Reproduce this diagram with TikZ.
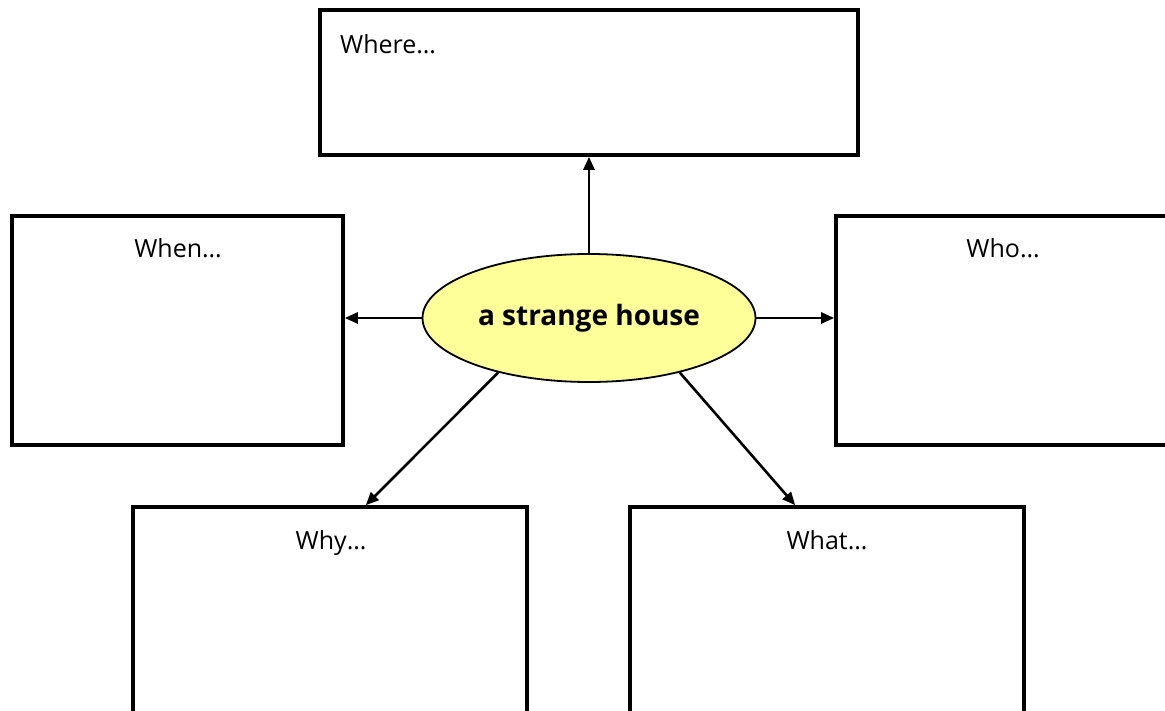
\documentclass[tikz,border=0pt]{standalone}
\usepackage{fontspec}
\setmainfont{Open Sans}
\usetikzlibrary{shapes.geometric,arrows.meta,calc}
\definecolor{ellfill}{HTML}{FFFF99}
\begin{document}
\begin{tikzpicture}[x=1pt,y=-1pt,
  qbox/.style={draw=black,line width=3.6pt,rectangle,inner sep=0pt},
  qtext/.style={font=\fontsize{25}{28}\selectfont,inner sep=0pt},
  conn/.style={line width=2.6pt,-{Triangle[length=13pt,width=11pt]}}]
\useasboundingbox (0,0) rectangle (1165,711);
\clip (0,0) rectangle (1165,711);
\fill[white] (0,0) rectangle (1165,711);
% boxes
\node[qbox,minimum width=538pt,minimum height=145pt] (where) at (589,82.5) {};
\node[qbox,minimum width=331pt,minimum height=229pt] (when) at (177.5,330.5) {};
\node[qbox,minimum width=340pt,minimum height=229pt] (who) at (1006,330.5) {};
\node[qbox,minimum width=394pt,minimum height=230pt] (why) at (330,622) {};
\node[qbox,minimum width=394pt,minimum height=230pt] (what) at (827,622) {};
% labels
\node[qtext,anchor=base west] (twhere) at (340,54) {Where\ldots};
\node[qtext,anchor=base] (twhen) at (178,258) {When\ldots};
\node[qtext,anchor=base] (twho) at (1003,258) {Who\ldots};
\node[qtext,anchor=base] (twhy) at (331,549) {Why\ldots};
\node[qtext,anchor=base] (twhat) at (827,549) {What\ldots};
% centre
\node[ellipse,draw=black,line width=1.8pt,fill=ellfill,minimum width=333pt,minimum height=128pt,inner sep=0pt,
  font=\fontsize{28}{32}\selectfont\bfseries] (e) at (589,318) {a strange house};
% connectors
\draw[conn] (e.north) -- (where.south);
\draw[conn] (e.west) -- (e.west -| when.east);
\draw[conn] (e.east) -- (e.east -| who.west);
\draw[conn] (e.211) -- ($(why.north west)!0.59!(why.north east)$);
\draw[conn] (e.329) -- ($(what.north west)!0.42!(what.north east)$);
\end{tikzpicture}
\end{document}
